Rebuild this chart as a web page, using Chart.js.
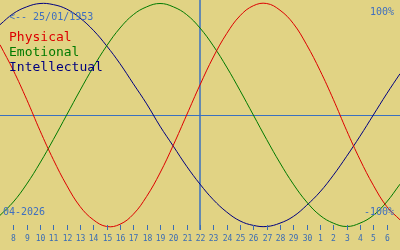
<!DOCTYPE html>
<html>
<head>
<meta charset="utf-8">
<script src="https://cdn.jsdelivr.net/npm/chart.js@4/dist/chart.umd.min.js"></script>
<style>
  html, body { margin: 0; padding: 0; background: #e1d384; }
  canvas { display: block; }
</style>
</head>
<body>
<canvas id="bio" width="400" height="250"></canvas>
<script>
// days of the window (April 7 .. May 7, 2026 as day 7..37)
const days = [7, 8, 9, 10, 11, 12, 13, 14, 15, 16, 17, 18, 19, 20, 21, 22,
    23, 24, 25, 26, 27, 28, 29, 30, 31, 32, 33, 34, 35, 36, 37];

// values (-1 .. 1)
const physical = [0.63, 0.40, 0.14, -0.14, -0.40, -0.63, -0.82, -0.94, -1.00, -0.98,
    -0.89, -0.73, -0.52, -0.27, 0.00, 0.27, 0.52, 0.73, 0.89, 0.98, 1.00, 0.94,
    0.82, 0.63, 0.40, 0.14, -0.14, -0.40, -0.63, -0.82, -0.94];
const emotional = [-0.90, -0.78, -0.62, -0.43, -0.22, 0.00, 0.22, 0.43, 0.62, 0.78,
    0.90, 0.97, 1.00, 0.97, 0.90, 0.78, 0.62, 0.43, 0.22, 0.00, -0.22, -0.43,
    -0.62, -0.78, -0.90, -0.97, -1.00, -0.97, -0.90, -0.78, -0.62];
const intellectual = [0.81, 0.91, 0.97, 1.00, 0.99, 0.95, 0.87, 0.76, 0.62, 0.46,
    0.28, 0.10, -0.10, -0.28, -0.46, -0.62, -0.76, -0.87, -0.95, -0.99, -1.00,
    -0.97, -0.91, -0.81, -0.69, -0.54, -0.37, -0.19, 0.00, 0.19, 0.37];

const tickDays = [8, 9, 10, 11, 12, 13, 14, 15, 16, 17, 18, 19, 20, 21, 22,
    23, 24, 25, 26, 27, 28, 29, 30, 31, 32, 33, 34, 35, 36];
const tickLabels = ['8', '9', '10', '11', '12', '13', '14', '15', '16', '17', '18',
    '19', '20', '21', '22', '23', '24', '25', '26', '27', '28', '29', '30',
    '1', '2', '3', '4', '5', '6'];
const today = 22;
const seriesNames = ['Physical', 'Emotional', 'Intellectual'];
const seriesColors = ['#dd0000', '#007a00', '#000080'];

const pts = (vals) => days.map((d, i) => ({ x: d, y: vals[i] }));

const mono = '"DejaVu Sans Mono", "Liberation Mono", monospace';

const decor = {
    id: 'decor',
    beforeDraw(chart) {
        const ctx = chart.ctx;
        ctx.save();
        ctx.fillStyle = '#e1d384';
        ctx.fillRect(0, 0, chart.width, chart.height);
        ctx.restore();
    },
    beforeDatasetsDraw(chart) {
        const ctx = chart.ctx;
        const xs = chart.scales.x, ys = chart.scales.y;
        ctx.save();
        // zero line
        const y0 = Math.round(ys.getPixelForValue(0)) + 0.5;
        ctx.strokeStyle = '#3a70c0';
        ctx.lineWidth = 1;
        ctx.beginPath();
        ctx.moveTo(0, y0);
        ctx.lineTo(chart.width, y0);
        ctx.stroke();
        // today line
        const xt = xs.getPixelForValue(today);
        ctx.lineWidth = 1.5;
        ctx.beginPath();
        ctx.moveTo(xt, 0);
        ctx.lineTo(xt, 230);
        ctx.stroke();
        ctx.restore();
    },
    afterDraw(chart) {
        const ctx = chart.ctx;
        const xs = chart.scales.x;
        ctx.save();
        // day ticks and labels
        ctx.strokeStyle = '#3a6cb5';
        ctx.fillStyle = '#3a6cb5';
        ctx.lineWidth = 1;
        ctx.font = '8px ' + mono;
        ctx.textAlign = 'center';
        ctx.textBaseline = 'alphabetic';
        tickDays.forEach((d, i) => {
            const x = Math.round(xs.getPixelForValue(d)) + 0.5;
            ctx.beginPath();
            ctx.moveTo(x, 225);
            ctx.lineTo(x, 230);
            ctx.stroke();
            ctx.fillText(tickLabels[i], x, 241);
        });
        // corner texts
        ctx.font = '10px ' + mono;
        ctx.fillStyle = '#3f6fbf';
        ctx.textBaseline = 'middle';
        ctx.textAlign = 'left';
        ctx.fillText('<-- 25/01/1953', 9, 17);
        ctx.fillText('04-2026', 3, 212);
        ctx.textAlign = 'right';
        ctx.fillText('100%', 394, 12);
        ctx.fillText('-100%', 394, 212);
        // series names
        ctx.font = '13px ' + mono;
        ctx.textAlign = 'left';
        seriesNames.forEach((n, i) => {
            ctx.fillStyle = seriesColors[i];
            ctx.fillText(n, 9, 38 + i * 15);
        });
        ctx.restore();
    }
};

new Chart(document.getElementById('bio'), {
    type: 'line',
    data: {
        datasets: seriesNames.map((n, i) => ({
            label: n,
            data: pts([physical, emotional, intellectual][i]),
            borderColor: seriesColors[i],
            borderWidth: 1,
            pointRadius: 0,
            tension: 0.4,
            fill: false
        }))
    },
    options: {
        responsive: false,
        animation: false,
        layout: { padding: 0 },
        plugins: { legend: { display: false }, tooltip: { enabled: false } },
        scales: {
            x: { type: 'linear', min: 7, max: 37, display: false },
            y: { min: -1.2108, max: 1.0314, display: false }
        }
    },
    plugins: [decor]
});
</script>
</body>
</html>
